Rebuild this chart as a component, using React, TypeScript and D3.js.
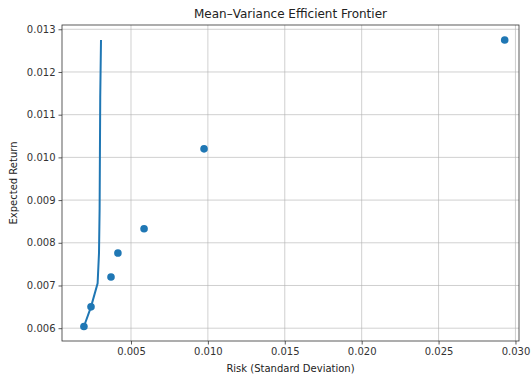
import React, { useRef, useEffect } from 'react';
import * as d3 from 'd3';

// portfolio points (risk, return)
const assetRisk = [0.00194, 0.0024, 0.0037, 0.00415, 0.00585, 0.00975, 0.0293];
const assetReturn = [0.00604, 0.0065, 0.0072, 0.00776, 0.00833, 0.0102, 0.01275];

// efficient frontier curve
const frontierRisk = [0.00194, 0.0024, 0.00283, 0.00292, 0.00296, 0.00298, 0.003, 0.00305];
const frontierReturn = [0.00604, 0.0065, 0.00705, 0.00776, 0.0088, 0.0101, 0.0114, 0.01275];

const xTicks = [0.005, 0.01, 0.015, 0.02, 0.025, 0.03];
const yTicks = [0.006, 0.007, 0.008, 0.009, 0.01, 0.011, 0.012, 0.013];

const W = 531;
const H = 376;

export default function App() {
    const svgRef = useRef<SVGSVGElement | null>(null);

    useEffect(() => {
        if (!svgRef.current) return;
        const svg = d3.select(svgRef.current);
        svg.selectAll("*").remove();

        const margin = { top: 25, right: 12, bottom: 35, left: 62 };
        const width = W - margin.left - margin.right;
        const height = H - margin.top - margin.bottom;
        const font = "DejaVu Sans, sans-serif";
        const blue = "#1f77b4";

        const chart = svg.append("g").attr("transform", `translate(${margin.left},${margin.top})`);

        const xScale = d3.scaleLinear().domain([0.000514, 0.03023]).range([0, width]);
        const yScale = d3.scaleLinear().domain([0.0057, 0.0131]).range([height, 0]);

        // Grid
        chart.append("g").selectAll("line").data(xTicks).join("line")
            .attr("x1", d => xScale(d)).attr("x2", d => xScale(d))
            .attr("y1", 0).attr("y2", height)
            .attr("stroke", "#b0b0b0").attr("stroke-opacity", 0.6).attr("stroke-width", 1);
        chart.append("g").selectAll("line").data(yTicks).join("line")
            .attr("y1", d => yScale(d)).attr("y2", d => yScale(d))
            .attr("x1", 0).attr("x2", width)
            .attr("stroke", "#b0b0b0").attr("stroke-opacity", 0.6).attr("stroke-width", 1);

        // Axes
        const xAxis = chart.append("g").attr("transform", `translate(0,${height})`)
            .call(d3.axisBottom(xScale).tickValues(xTicks).tickFormat(d3.format(".3f")).tickSize(3.5).tickPadding(3));
        const yAxis = chart.append("g")
            .call(d3.axisLeft(yScale).tickValues(yTicks).tickFormat(d3.format(".3f")).tickSize(3.5).tickPadding(3));
        [xAxis, yAxis].forEach(a => {
            a.select(".domain").remove();
            a.selectAll("text").attr("fill", "#333").style("font-family", font).style("font-size", "10px");
            a.selectAll("line").attr("stroke", "#333").attr("stroke-width", 0.8);
        });

        // Frame
        chart.append("rect").attr("width", width).attr("height", height)
            .attr("fill", "none").attr("stroke", "#333").attr("stroke-width", 0.8);

        // Frontier line
        const line = d3.line<number>()
            .x((d, i) => xScale(frontierRisk[i]))
            .y(d => yScale(d));
        chart.append("path").datum(frontierReturn).attr("d", line)
            .attr("fill", "none").attr("stroke", blue).attr("stroke-width", 2);

        // Asset points
        chart.append("g").selectAll("circle").data(assetRisk).join("circle")
            .attr("cx", d => xScale(d)).attr("cy", (d, i) => yScale(assetReturn[i]))
            .attr("r", 3.8).attr("fill", blue);

        // Labels
        svg.append("text").attr("x", margin.left + width / 2).attr("y", 18)
            .attr("text-anchor", "middle").style("font-family", font).style("font-size", "12px")
            .attr("fill", "#222").text("Mean–Variance Efficient Frontier");
        svg.append("text").attr("x", margin.left + width / 2).attr("y", H - 4)
            .attr("text-anchor", "middle").style("font-family", font).style("font-size", "10px")
            .attr("fill", "#222").text("Risk (Standard Deviation)");
        svg.append("text").attr("transform", `translate(17,${margin.top + height / 2}) rotate(-90)`)
            .attr("text-anchor", "middle").style("font-family", font).style("font-size", "10px")
            .attr("fill", "#222").text("Expected Return");
    }, []);

    return (
        <svg ref={svgRef} width={W} height={H}
            style={{ position: 'absolute', left: 0, top: 0, background: '#fff' }} />
    );
}
